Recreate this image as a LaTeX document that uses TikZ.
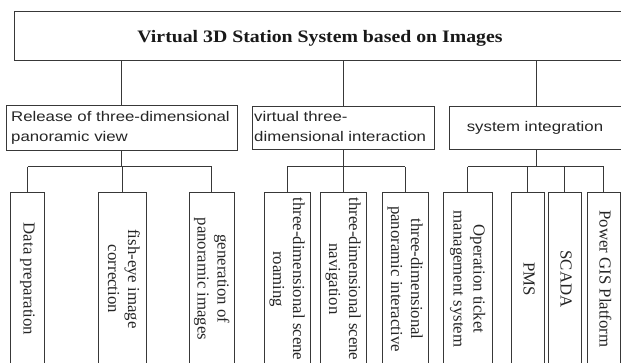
\documentclass[tikz,border=0pt]{standalone}
\usepackage{fontspec}
\setmainfont{Liberation Serif}
\newfontfamily\arialf{Liberation Sans}
\usepackage{graphicx}
\newcommand\leaftext[1]{\rotatebox{-90}{\begin{tabular}{@{}c@{}}#1\end{tabular}}}
\newcommand\lvtext[1]{\scalebox{1.2}[1]{\begin{tabular}[t]{@{}l@{}}#1\end{tabular}}}
\tikzset{
  ln/.style={draw=black!78, line width=1pt},
  box/.style={ln, rectangle, inner sep=0pt, fill=white},
  leaf/.style={box, minimum height=172pt, font=\fontsize{16.8}{20}\selectfont, text=black!85},
  lvtxt/.style={inner sep=0pt, font=\arialf\fontsize{14}{20}\selectfont, text=black!85},
  ttl/.style={inner sep=0pt, font=\bfseries\fontsize{17.5}{20}\selectfont, text=black!90},
}
\begin{document}
\begin{tikzpicture}[x=1pt,y=-1pt]
\useasboundingbox (0,0) rectangle (621,363);
\clip (0,0) rectangle (621,363);
\fill[white] (0,0) rectangle (621,363);

% top box
\node[box, minimum width=614pt, minimum height=49pt] (top) at (321,36.5) {};
\node[ttl, anchor=base] (title) at (320,43) {\scalebox{1.13}[1]{Virtual 3D Station System based on Images}};

% level 2
\node[box, minimum width=231pt, minimum height=45pt] (rel) at (121.5,128.5) {};
\node[lvtxt, anchor=base west] (relt) at (11,121.7) {\lvtext{Release of three-dimensional\\panoramic view}};
\node[box, minimum width=182pt, minimum height=43pt] (virt) at (343,128.5) {};
\node[lvtxt, anchor=base west] (virtt) at (254,121.5) {\lvtext{virtual three-\\dimensional interaction}};
\node[box, minimum width=176pt, minimum height=43pt] (sys) at (537,128.5) {};
\node[lvtxt, anchor=base] (syst) at (535,132) {\scalebox{1.2}[1]{system integration}};

\draw[ln] (top.south -| rel) -- (rel);
\draw[ln] (top.south -| virt) -- (virt);
\coordinate (sx) at (536,128.5);
\draw[ln] (top.south -| sx) -- (sx |- sys.north);

% leaves
\node[leaf, minimum width=34pt] (dp) at (27.5,279) {\leaftext{Data preparation}};
\node[leaf, minimum width=48pt] (fe) at (122,279) {\leaftext{fish-eye image\\correction}};
\node[leaf, minimum width=45pt] (gen) at (211.5,279) {\leaftext{generation of\\panoramic images}};
\node[leaf, minimum width=46pt] (roam) at (287,279) {\leaftext{three-dimensional scene\\roaming}};
\node[leaf, minimum width=46pt] (nav) at (343,279) {\leaftext{three-dimensional scene\\navigation}};
\node[leaf, minimum width=46pt] (inter) at (405,279) {\leaftext{three-dimensional\\panoramic interactive}};
\node[leaf, minimum width=49pt] (op) at (467.5,279) {\leaftext{Operation ticket\\management system}};
\node[leaf, minimum width=33pt] (pms) at (527.5,279) {\leaftext{PMS}};
\node[leaf, minimum width=33pt] (scada) at (564.5,279) {\leaftext{SCADA}};
\node[leaf, minimum width=33pt] (gis) at (603.5,279) {\leaftext{Power GIS Platform}};

% release group
\coordinate (rj) at (121.5,167);
\draw[ln] (rel) -- (rj);
\draw[ln] (dp |- rj) -- (gen |- rj);
\foreach \n in {dp,fe,gen} \draw[ln] (\n |- rj) -- (\n);

% virtual group
\coordinate (vj) at (343,167);
\draw[ln] (virt) -- (vj);
\draw[ln] (roam |- vj) -- (inter |- vj);
\foreach \n in {roam,nav,inter} \draw[ln] (\n |- vj) -- (\n);

% system group
\coordinate (sj) at (536,167);
\draw[ln] (sx |- sys.south) -- (sj);
\draw[ln] (op |- sj) -- (gis |- sj);
\foreach \n in {op,pms,scada,gis} \draw[ln] (\n |- sj) -- (\n);
\end{tikzpicture}
\end{document}
